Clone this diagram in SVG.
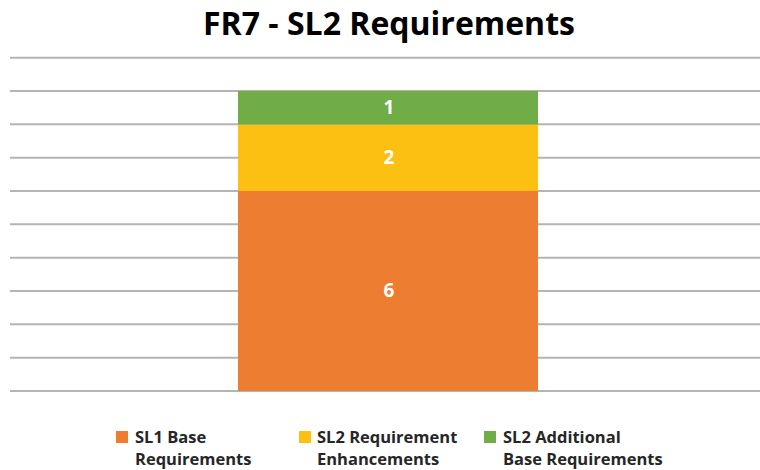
<svg xmlns="http://www.w3.org/2000/svg" width="760" height="470" viewBox="0 0 760 470">
<style>
.grid{stroke:#b4b4b4;stroke-width:2}
.title{font-family:"Open Sans","Liberation Sans",sans-serif;font-weight:bold;font-size:32px;fill:#000;text-anchor:middle}
.val{font-family:"Open Sans","Liberation Sans",sans-serif;font-weight:bold;font-size:19px;fill:#fff;text-anchor:middle}
.leg{font-family:"Open Sans","Liberation Sans",sans-serif;font-weight:bold;font-size:16.5px;fill:#262626}
</style>
<rect width="760" height="470" fill="#fff"/>
<text class="title" x="389" y="35">FR7 - SL2 Requirements</text>
<g id="gridlines">
<line class="grid" x1="10" y1="57.7" x2="760" y2="57.7"/>
<line class="grid" x1="10" y1="91" x2="760" y2="91"/>
<line class="grid" x1="10" y1="124.3" x2="760" y2="124.3"/>
<line class="grid" x1="10" y1="157.7" x2="760" y2="157.7"/>
<line class="grid" x1="10" y1="191" x2="760" y2="191"/>
<line class="grid" x1="10" y1="224.3" x2="760" y2="224.3"/>
<line class="grid" x1="10" y1="257.7" x2="760" y2="257.7"/>
<line class="grid" x1="10" y1="291" x2="760" y2="291"/>
<line class="grid" x1="10" y1="324.3" x2="760" y2="324.3"/>
<line class="grid" x1="10" y1="357.7" x2="760" y2="357.7"/>
<line class="grid" x1="10" y1="391" x2="760" y2="391"/>
</g>
<g id="bar-sl1">
<rect x="238" y="191" width="300" height="200" fill="#ed7d31"/>
<text class="val" x="389" y="297">6</text>
</g>
<g id="bar-sl2-enh">
<rect x="238" y="124.5" width="300" height="66.5" fill="#fbc012"/>
<text class="val" x="389" y="164">2</text>
</g>
<g id="bar-sl2-add">
<rect x="238" y="91" width="300" height="33.5" fill="#70ad47"/>
<text class="val" x="389" y="114">1</text>
</g>
<g id="legend-sl1">
<rect x="116" y="431" width="12" height="12" fill="#ed7d31"/>
<text class="leg" x="135" y="443">SL1 Base</text>
<text class="leg" x="135" y="465">Requirements</text>
</g>
<g id="legend-sl2-enh">
<rect x="299" y="431" width="12" height="12" fill="#fbc012"/>
<text class="leg" x="317" y="443">SL2 Requirement</text>
<text class="leg" x="317" y="465">Enhancements</text>
</g>
<g id="legend-sl2-add">
<rect x="484" y="431" width="12" height="12" fill="#70ad47"/>
<text class="leg" x="503" y="443">SL2 Additional</text>
<text class="leg" x="503" y="465">Base Requirements</text>
</g>
</svg>
